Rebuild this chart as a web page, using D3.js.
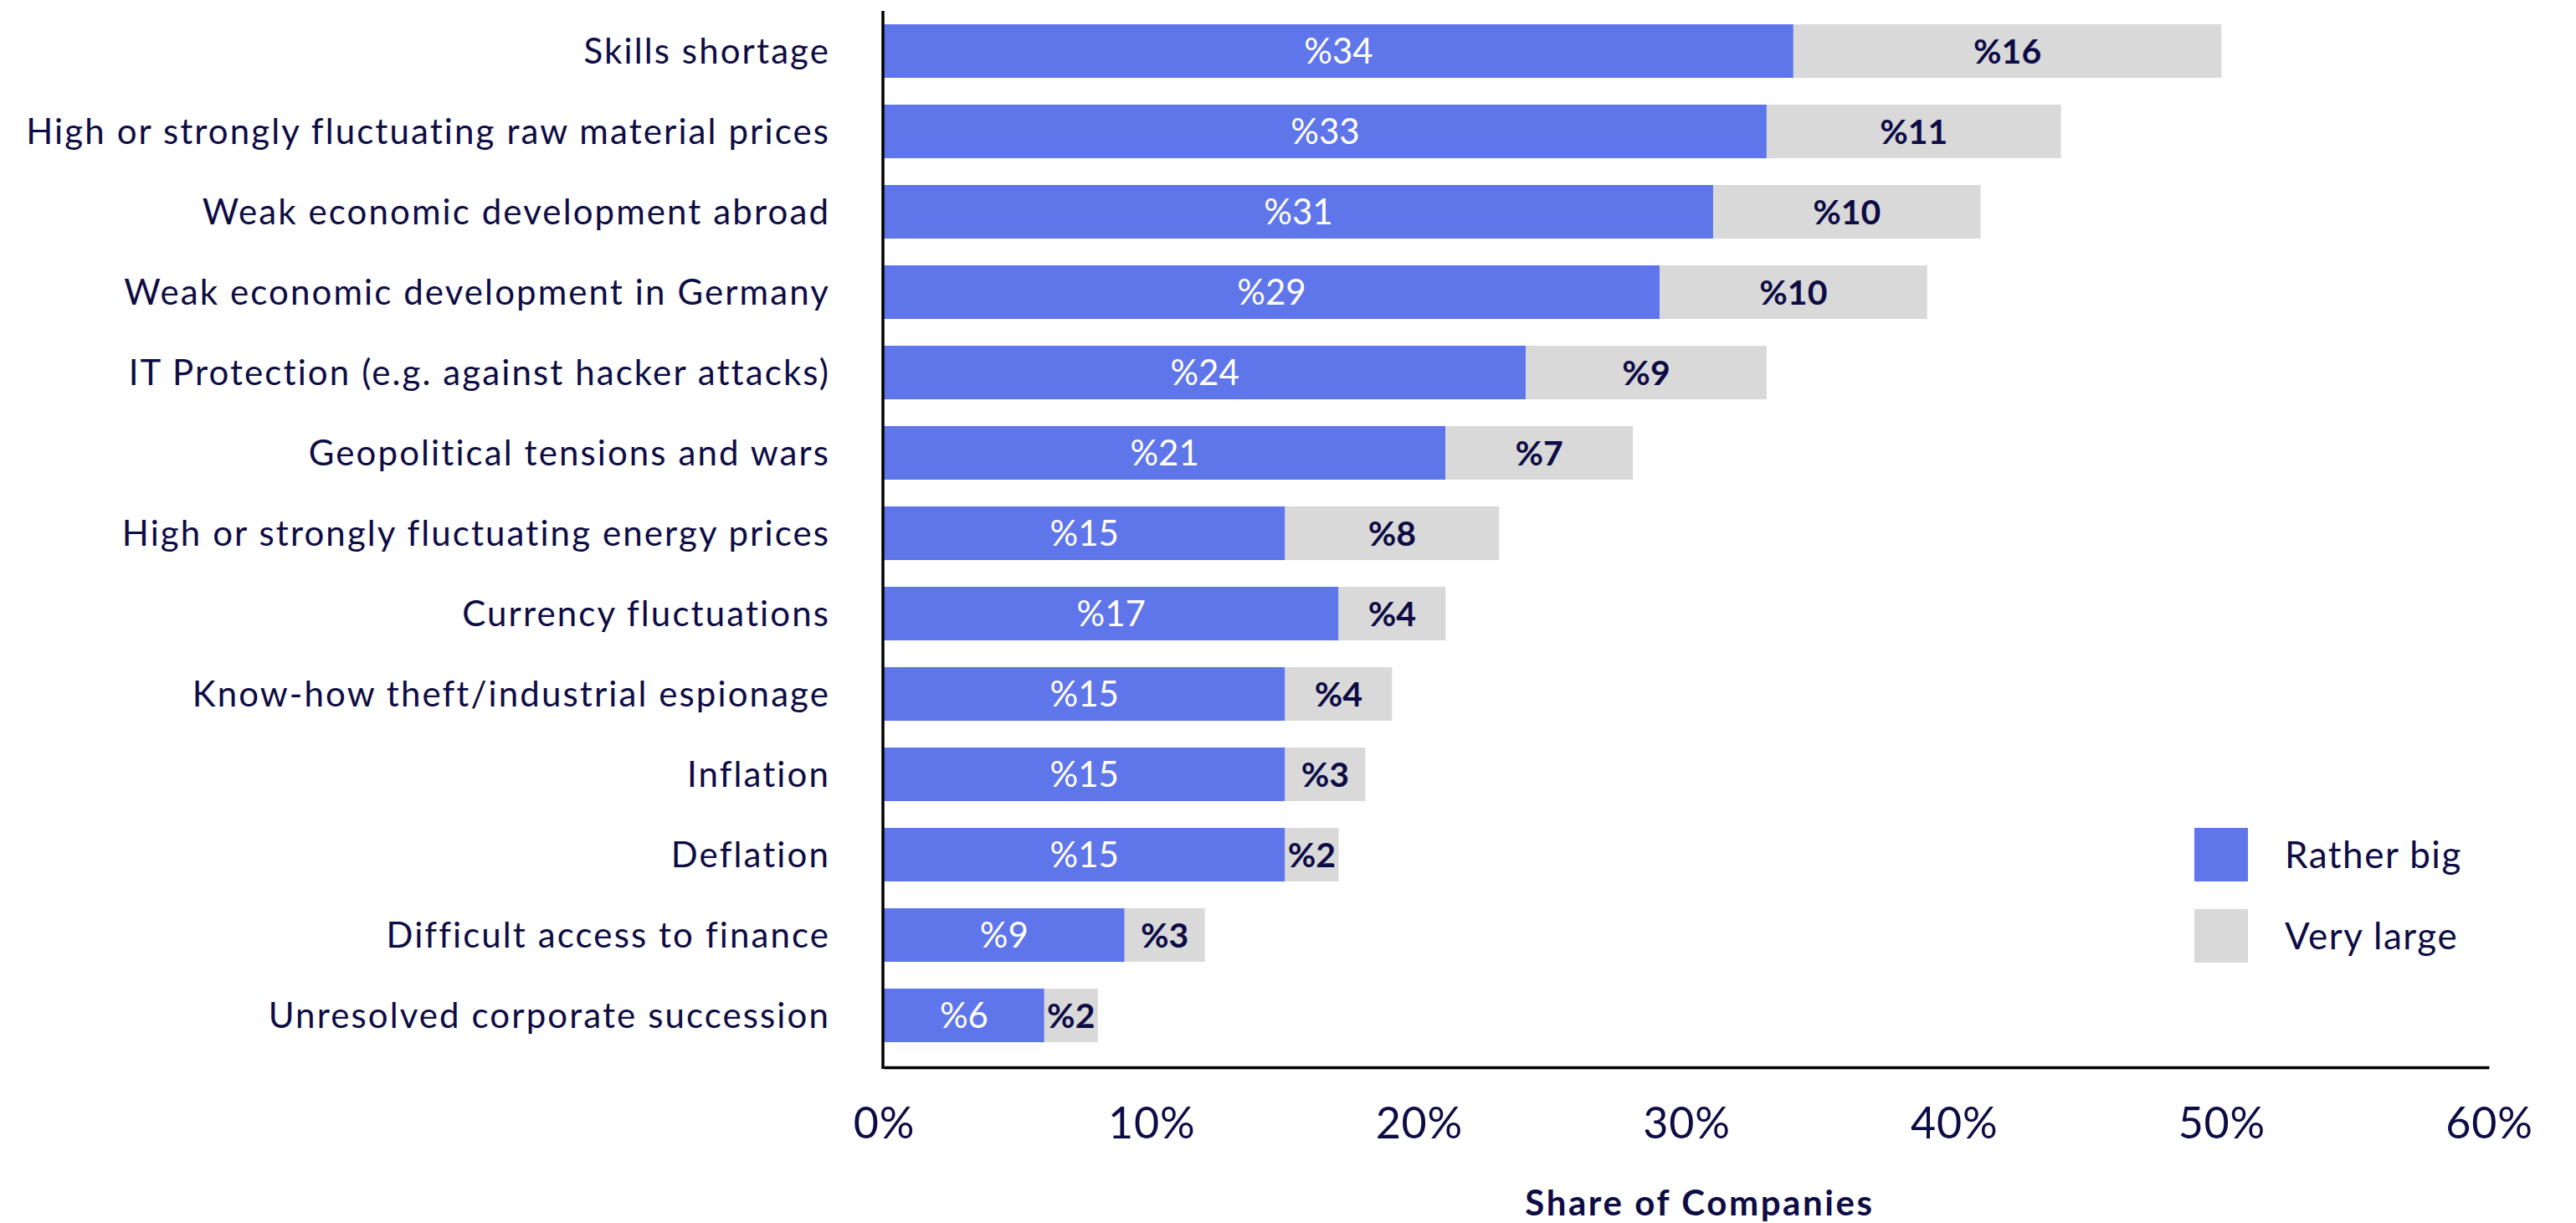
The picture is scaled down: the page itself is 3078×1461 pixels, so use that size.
<!DOCTYPE html>
<html>
<head>
<meta charset="utf-8">
<script src="https://cdn.jsdelivr.net/npm/d3@7"></script>
<style>
  html, body { margin: 0; padding: 0; background: #fff; }
  svg { display: block; }
  text { font-family: Lato, "Open Sans", sans-serif; }
</style>
</head>
<body>
<svg id="chart" width="3078" height="1461"></svg>
<script>
// Business risks, share of companies per answer
const categories = [
  "Skills shortage",
  "High or strongly fluctuating raw material prices",
  "Weak economic development abroad",
  "Weak economic development in Germany",
  "IT Protection (e.g. against hacker attacks)",
  "Geopolitical tensions and wars",
  "High or strongly fluctuating energy prices",
  "Currency fluctuations",
  "Know-how theft/industrial espionage",
  "Inflation",
  "Deflation",
  "Difficult access to finance",
  "Unresolved corporate succession"
];
const ratherBig = [34, 33, 31, 29, 24, 21, 15, 17, 15, 15, 15, 9, 6];
const veryLarge = [16, 11, 10, 10, 9, 7, 8, 4, 4, 3, 2, 3, 2];
const seriesNames = ["Rather big", "Very large"];
const xTicks = [0, 10, 20, 30, 40, 50, 60];
const xTitle = "Share of Companies";

const ink = "#0e0c45";
const colors = ["#5f75ea", "#d9d9d9"];

const svg = d3.select("#chart");
const x0 = 1056, x1 = 2974, yTop = 13, yAxis = 1275;

const x = d3.scaleLinear().domain([0, 60]).range([x0, x1]);
const y = d3.scaleBand().domain(categories).range([13, 1261])
  .paddingInner(1 / 3).paddingOuter(1 / 6);

const rows = categories.map((c, i) => ({ c, a: ratherBig[i], b: veryLarge[i] }));

// stacked bars
const g = svg.append("g");
g.selectAll("rect.a").data(rows).join("rect")
  .attr("x", x(0)).attr("y", d => y(d.c))
  .attr("width", d => x(d.a) - x(0)).attr("height", y.bandwidth())
  .attr("fill", colors[0]);
g.selectAll("rect.b").data(rows).join("rect")
  .attr("x", d => x(d.a)).attr("y", d => y(d.c))
  .attr("width", d => x(d.a + d.b) - x(d.a)).attr("height", y.bandwidth())
  .attr("fill", colors[1]);

// value labels
g.selectAll("text.a").data(rows).join("text")
  .attr("x", d => (x(0) + x(d.a)) / 2)
  .attr("y", d => y(d.c) + y.bandwidth() / 2)
  .attr("dy", "0.36em").attr("text-anchor", "middle")
  .attr("font-size", 42).attr("fill", "#fff")
  .text(d => "%" + d.a);
g.selectAll("text.b").data(rows).join("text")
  .attr("x", d => (x(d.a) + x(d.a + d.b)) / 2)
  .attr("y", d => y(d.c) + y.bandwidth() / 2)
  .attr("dy", "0.36em").attr("text-anchor", "middle")
  .attr("font-size", 41).attr("font-weight", 700).attr("fill", ink)
  .text(d => "%" + d.b);

// category labels
svg.append("g").selectAll("text").data(categories).join("text")
  .attr("x", 992).attr("y", d => y(d) + y.bandwidth() / 2)
  .attr("dy", "0.36em").attr("text-anchor", "end")
  .attr("font-size", 42).attr("letter-spacing", 2.1).attr("fill", ink)
  .text(d => d);

// axes
svg.append("line")
  .attr("x1", x0 - 1).attr("x2", x0 - 1).attr("y1", yTop).attr("y2", yAxis + 2)
  .attr("stroke", "#000").attr("stroke-width", 3.5);

const xAxis = d3.axisBottom(x).tickValues(xTicks).tickSize(0).tickSizeOuter(0)
  .tickPadding(48).tickFormat(d => d + "%");
const ax = svg.append("g").attr("transform", `translate(0,${yAxis})`).call(xAxis);
ax.select(".domain").attr("stroke", "#000").attr("stroke-width", 3.5);
ax.selectAll(".tick text").attr("font-size", 52).attr("letter-spacing", 0.8).attr("fill", ink)
  .attr("font-family", "Lato, sans-serif");

svg.append("text")
  .attr("x", 2031).attr("y", 1452).attr("text-anchor", "middle")
  .attr("font-size", 42).attr("font-weight", 700).attr("letter-spacing", 2.6).attr("fill", ink)
  .text(xTitle);

// legend
const lg = svg.append("g").attr("transform", "translate(2622,989)");
seriesNames.forEach((n, i) => {
  lg.append("rect").attr("x", 0).attr("y", i * 97).attr("width", 64).attr("height", 64)
    .attr("fill", colors[i]);
  lg.append("text").attr("x", 108).attr("y", i * 97 + 32).attr("dy", "0.36em")
    .attr("font-size", 44).attr("letter-spacing", 1.5).attr("fill", ink).text(n);
});
</script>
</body>
</html>
